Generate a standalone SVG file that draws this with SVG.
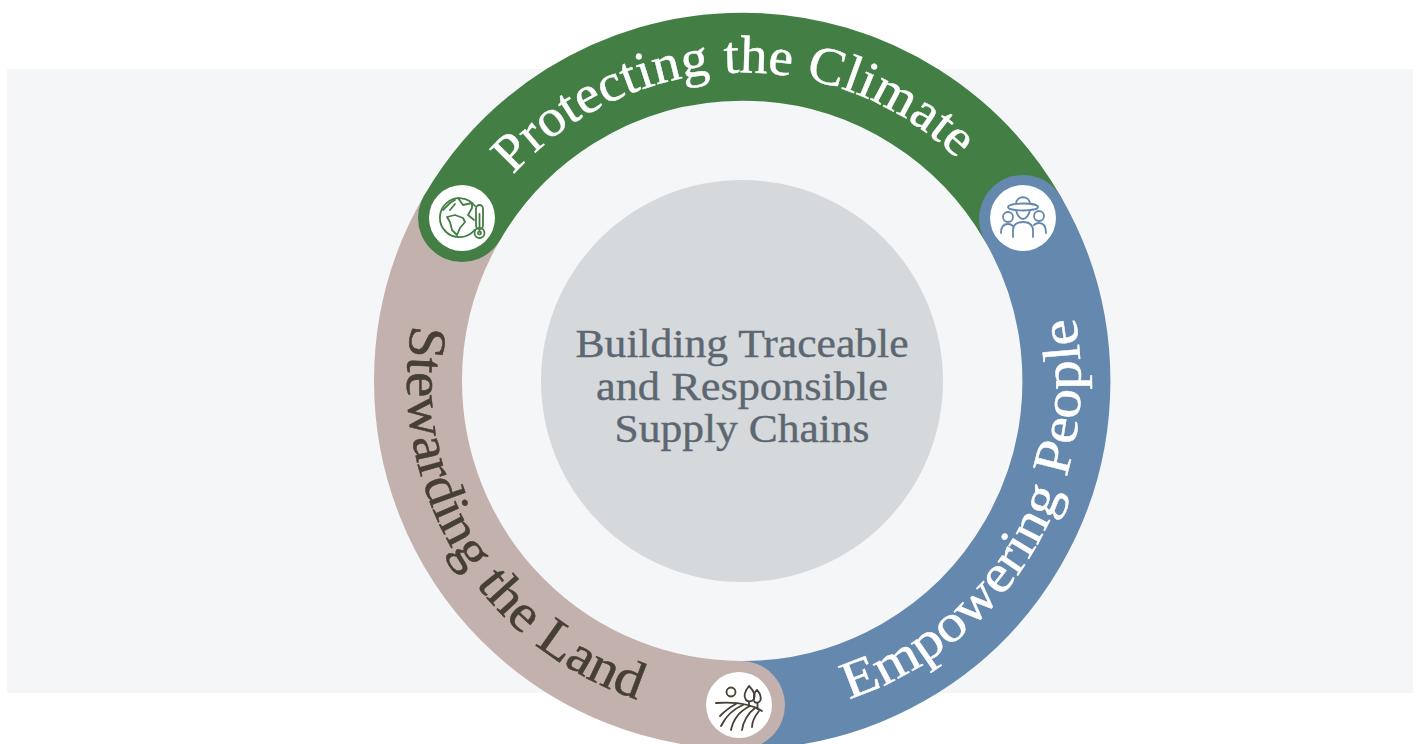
<svg xmlns="http://www.w3.org/2000/svg" width="1419" height="744" viewBox="0 0 1419 744">
<style>
.seg{fill:none;stroke-width:88;stroke-linecap:butt}
.ring{font-family:"Liberation Serif",serif;font-size:53px;stroke-width:.5px}
.center{font-family:"Liberation Serif",serif;font-size:41px;fill:#5d6771;stroke:#5d6771;stroke-width:.4px;text-anchor:middle}
.ic{fill:none;stroke-width:1.8;stroke-linecap:round;stroke-linejoin:round}
</style>
<defs>
<path id="pTop" d="M513 175 A309 309 0 0 1 968 170"/>
<path id="pRight" d="M849 699 A336 336 0 0 0 1075 318"/>
<path id="pLeft" d="M412 325 A335 335 0 0 0 642 701"/>
</defs>
<rect width="1419" height="744" fill="#fff"/>
<rect x="7" y="69" width="1406" height="624" fill="#f4f6f8"/>
<g id="connectors">
<path class="seg" stroke="#c3b1ae" d="M418 381 A324 324 0 0 1 462 218"/>
<path class="seg" stroke="#437e45" d="M462 218 A324 324 0 0 1 1023 219"/>
<circle cx="462" cy="218" r="44" fill="#437e45"/>
<path class="seg" stroke="#6589ae" d="M1023 219 A324 324 0 0 1 741 705"/>
<circle cx="1023" cy="219" r="44" fill="#6589ae"/>
<path class="seg" stroke="#c3b1ae" d="M741 705 A324 324 0 0 1 418 381"/>
<circle cx="741" cy="705" r="44" fill="#c3b1ae"/>
</g>
<circle id="hub" cx="742" cy="381" r="201" fill="#d6d9dc"/>
<g id="center-label">
<text class="center" x="742" y="357" textLength="333" lengthAdjust="spacingAndGlyphs">Building Traceable</text>
<text class="center" x="742" y="400" textLength="292" lengthAdjust="spacingAndGlyphs">and Responsible</text>
<text class="center" x="742" y="442" textLength="255" lengthAdjust="spacingAndGlyphs">Supply Chains</text>
</g>
<g id="node-climate">
<text class="ring" fill="#fff" stroke="#fff"><textPath href="#pTop" textLength="496" lengthAdjust="spacingAndGlyphs">Protecting the Climate</textPath></text>
<circle cx="462" cy="218" r="33" fill="#fff"/>
<g class="ic" stroke="#437e45">
<path d="M474.500 230 A19.500 19.500 0 1 1 475 206"/>
<path d="M443 210 L450 203 L455 200 M455 204 L450 210 Z"/>
<path d="M447 217 L455 215 L463 218 L465 222 L460 228 L457 235 L452 230 L450 222 Z"/>
<path d="M458 198 L463 205 L472 203 L472 208 L468 215 L474 220"/>
<rect x="476" y="205" width="7" height="24" rx="3.500"/>
<circle cx="479.500" cy="233" r="5"/>
<circle cx="479.500" cy="233" r="1.500"/>
<path d="M479.500 214 V230"/>
</g>
</g>
<g id="node-people">
<text class="ring" fill="#fff" stroke="#fff"><textPath href="#pRight" textLength="484" lengthAdjust="spacingAndGlyphs">Empowering People</textPath></text>
<circle cx="1023" cy="218" r="33" fill="#fff"/>
<g class="ic" stroke="#6589ae">
<ellipse cx="1023" cy="207" rx="15" ry="3.500"/>
<path d="M1016 204 C1016 195 1030 195 1030 204"/>
<path d="M1016 210 C1017 215 1020 219 1023 219 C1026 219 1029 215 1030 210"/>
<circle cx="1008" cy="217" r="5"/>
<circle cx="1039" cy="216" r="5"/>
<path d="M1001 233 C1001 226 1004 224 1008 224 C1010 224 1012 225 1013 226"/>
<path d="M1046 233 C1046 226 1044 223 1039 223 C1037 223 1035 224 1034 225"/>
<path d="M1013 237 V231 C1013 225 1017 222 1023 222 C1029 222 1033 225 1033 231 V237"/>
</g>
</g>
<g id="node-land">
<text class="ring" fill="#453f35" stroke="#453f35"><textPath href="#pLeft" textLength="476" lengthAdjust="spacingAndGlyphs">Stewarding the Land</textPath></text>
<circle cx="739" cy="705" r="33" fill="#fff"/>
<g class="ic" stroke="#453f35">
<circle cx="731" cy="692" r="4.500"/>
<path d="M749 686 C745 691 743 696 746 700 C748 702 752 702 754 699 C756 695 753 690 749 686Z"/>
<path d="M757 690 C753 693 754 698 754 699 M757 690 C761 694 762 700 759 702 C757 703 755 703 754 701"/>
<path d="M749 702 V706 M757.500 703 V709"/>
<path d="M716 703 C730 702 750 703 762 711"/>
<path d="M721 726 C725 718 733 709 743 705"/>
<path d="M731 730 C733 720 740 711 750 706"/>
<path d="M742 730 C743 722 748 713 755 708"/>
<path d="M752 727 C752 722 755 716 759 711"/>
<path d="M720 716 C725 711 730 707 736 704"/>
</g>
</g>
</svg>
